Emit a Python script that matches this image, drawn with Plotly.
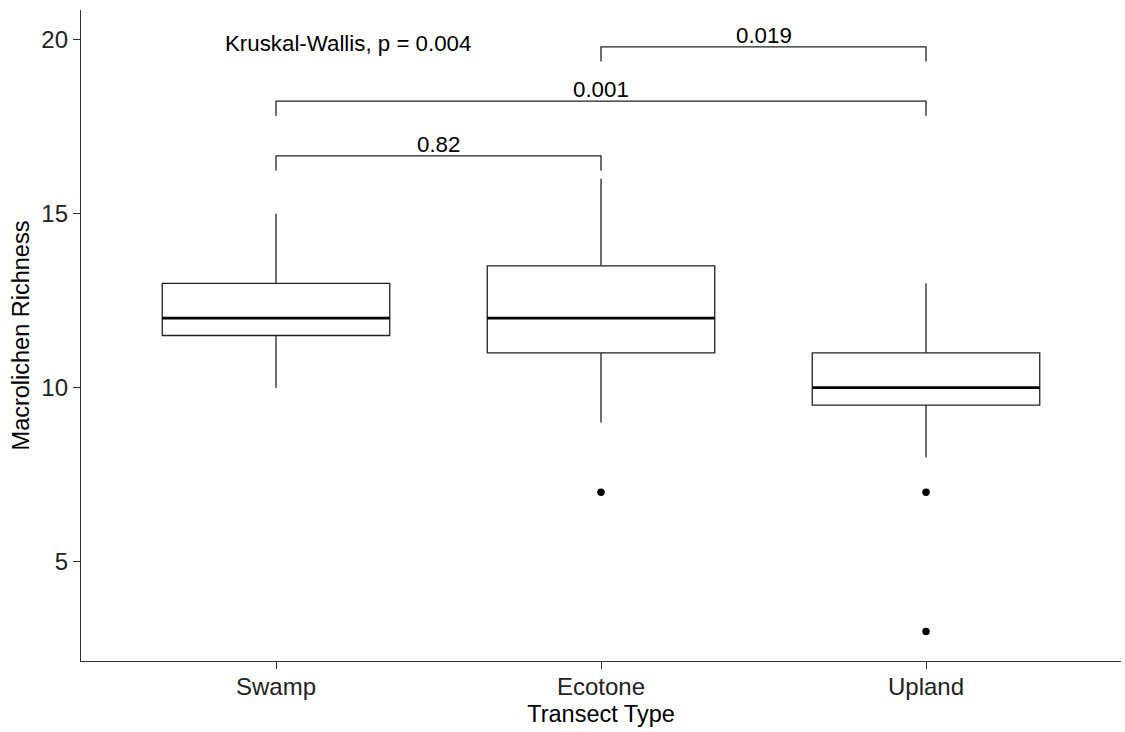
import plotly.graph_objects as go

# ---- data ----
categories = ["Swamp", "Ecotone", "Upland"]
lower_whisker = [10, 9, 8]
q1_values = [11.5, 11, 9.5]
median_values = [12, 12, 10]
q3_values = [13, 13.5, 11]
upper_whisker = [15, 16, 13]

outlier_groups = ["Ecotone", "Upland", "Upland"]
outlier_values = [7, 7, 3]

# pairwise comparisons (group a, group b, bracket height, label)
pair_a = ["Swamp", "Swamp", "Ecotone"]
pair_b = ["Ecotone", "Upland", "Upland"]
pair_y = [16.66, 18.235, 19.79]
pair_labels = ["0.82", "0.001", "0.019"]
tip_length = 0.42

kw_label = "Kruskal-Wallis, p = 0.004"
kw_y = 19.88

y_ticks = [5, 10, 15, 20]

FONT = "Liberation Sans, Arial, sans-serif"
BOX_W = 0.7
LINE = "#222222"

fig = go.Figure()

fig.add_trace(go.Box(
    x=categories,
    q1=q1_values, median=median_values, q3=q3_values,
    lowerfence=lower_whisker, upperfence=upper_whisker,
    width=BOX_W, whiskerwidth=0,
    fillcolor="white",
    line=dict(color=LINE, width=1.3),
    boxpoints=False,
    showlegend=False,
    hoverinfo="skip",
))

# thicker median lines (ggplot style)
for i, m in enumerate(median_values):
    fig.add_shape(type="line", xref="x", yref="y",
                  x0=i - BOX_W / 2, x1=i + BOX_W / 2, y0=m, y1=m,
                  line=dict(color="black", width=2.8))

# outliers
fig.add_trace(go.Scatter(
    x=outlier_groups, y=outlier_values, mode="markers",
    marker=dict(color="black", size=7.5),
    showlegend=False, hoverinfo="skip",
))

# significance brackets
for a, b, yv, lab in zip(pair_a, pair_b, pair_y, pair_labels):
    fig.add_trace(go.Scatter(
        x=[a, a, b, b], y=[yv - tip_length, yv, yv, yv - tip_length],
        mode="lines", line=dict(color=LINE, width=1.3),
        showlegend=False, hoverinfo="skip",
    ))
    ia, ib = categories.index(a), categories.index(b)
    fig.add_annotation(x=(ia + ib) / 2, y=yv, xref="x", yref="y",
                       text=lab, showarrow=False, yanchor="bottom",
                       yshift=-3, font=dict(family=FONT, size=22.3, color="black"))

fig.add_annotation(x=-0.162, y=kw_y, xref="x", yref="y", text=kw_label,
                   showarrow=False, xanchor="left", yanchor="middle",
                   font=dict(family=FONT, size=22.3, color="black"))

fig.update_layout(
    width=1125, height=732,
    margin=dict(l=81, r=4, t=10, b=71),
    paper_bgcolor="white", plot_bgcolor="white",
    font=dict(family=FONT, color="black"),
    boxmode="overlay",
)

fig.update_xaxes(
    type="category", categoryorder="array", categoryarray=categories,
    range=[-0.6, 2.6],
    showline=True, linecolor="#333333", linewidth=1.3,
    ticks="outside", ticklen=7, tickcolor="#333333", tickwidth=1.3,
    ticklabelstandoff=-3,
    showgrid=False, zeroline=False,
    tickfont=dict(family=FONT, size=24, color="#222222"),
    title=dict(text="Transect Type", font=dict(family=FONT, size=23.5, color="black"), standoff=6),
)
fig.update_yaxes(
    range=[2.15, 20.85],
    tickvals=y_ticks,
    showline=True, linecolor="#333333", linewidth=1.3,
    ticks="outside", ticklen=7, tickcolor="#333333", tickwidth=1.3,
    showgrid=False, zeroline=False,
    tickfont=dict(family=FONT, size=24, color="#222222"),
    title=dict(text="Macrolichen Richness", font=dict(family=FONT, size=23.5, color="black"), standoff=5),
)

fig.write_html("out.html")
